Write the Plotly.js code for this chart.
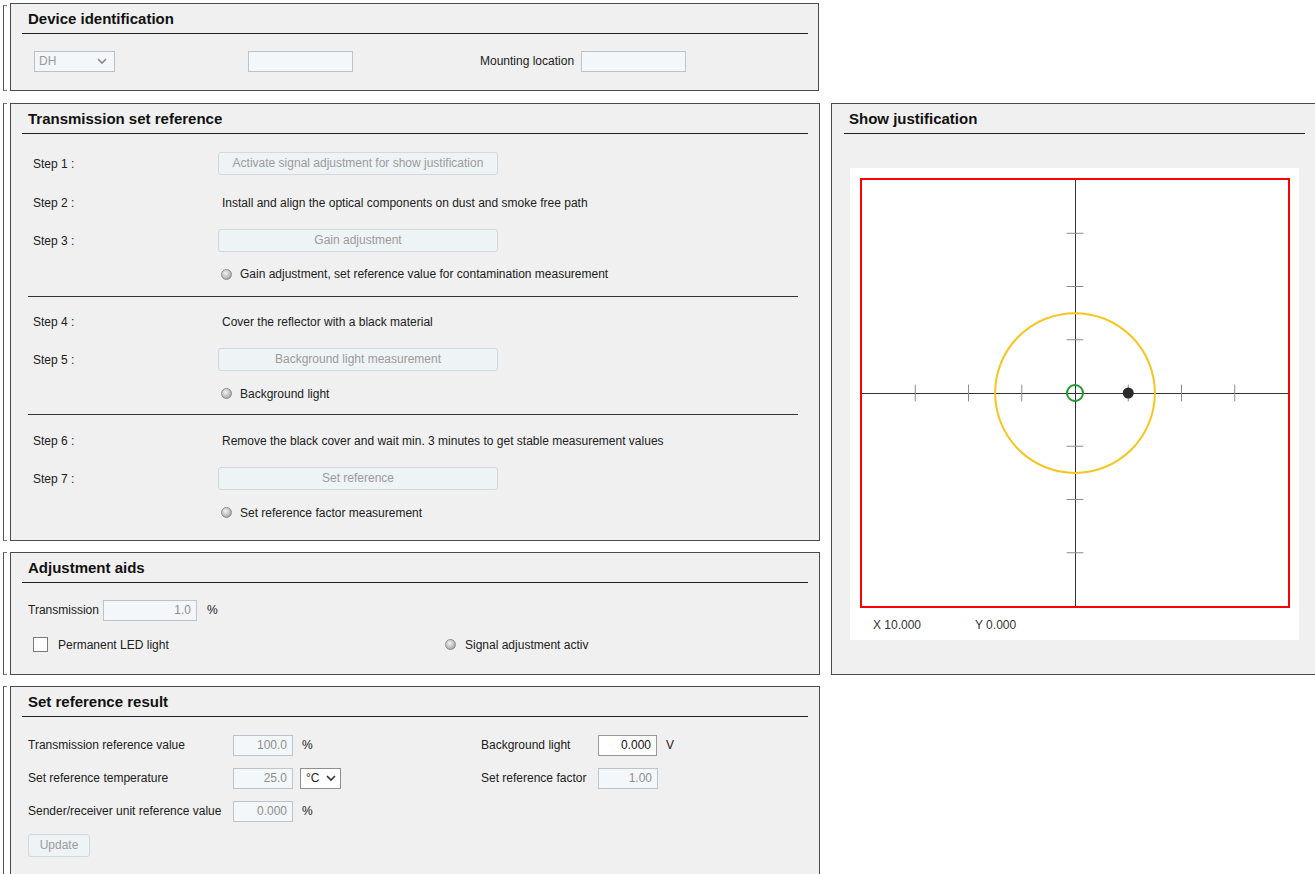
<!DOCTYPE html>
<html>
<head>
<meta charset="utf-8">
<script src="https://cdn.plot.ly/plotly-3.0.1.min.js"></script>
<style>
  html, body { margin:0; padding:0; background:#ffffff; width:1315px; height:874px; overflow:hidden;
    font-family:"Liberation Sans", Arial, sans-serif; }
  .panel { position:absolute; background:#f0f0f0; border:1px solid #4a4a4a; box-sizing:border-box; }
  .brk { position:absolute; left:3px; width:4px; border-left:1px solid #555; border-top:1px solid #777; border-bottom:1px solid #777; box-sizing:border-box; }
  .hdr { position:absolute; font-weight:bold; font-size:15px; line-height:18px; color:#111; white-space:nowrap; }
  .rule { position:absolute; height:1px; background:#1e1e1e; }
  .sep { position:absolute; height:1px; background:#333; }
  .t { position:absolute; font-size:12px; line-height:14px; color:#202020; white-space:nowrap; }
  .inp { position:absolute; box-sizing:border-box; border:1px solid #bcc3c9; background:#f3f7fa; color:#8e8e8e;
    font-size:12px; text-align:right; padding-right:5px; white-space:nowrap; }
  .btn { position:absolute; box-sizing:border-box; border:1px solid #d2d8dd; border-radius:3px; background:#eef3f6;
    color:#9b9b9b; text-align:center; font-size:12px; white-space:nowrap; }
  .led { position:absolute; width:11px; height:11px; border-radius:50%; box-sizing:border-box; border:1px solid #8d8d8d;
    background: radial-gradient(circle at 40% 35%, #f4f4f4 0%, #bdbdbd 55%, #8a8a8a 100%); }
  .sel { position:absolute; box-sizing:border-box; border:1px solid #b9c0c6; font-size:12px; white-space:nowrap; }
  .chk { position:absolute; width:15px; height:15px; box-sizing:border-box; border:1px solid #7a7a7a; background:#fff; }
  #plot { position:absolute; left:850px; top:168px; width:449px; height:472px; background:#fff; }
</style>
</head>
<body>

<!-- Device identification -->
<div class="brk" style="top:5px;height:86px;"></div>
<div class="panel" style="left:10px;top:3px;width:809px;height:88px;"></div>
<div class="hdr" style="left:28px;top:10px;">Device identification</div>
<div class="rule" style="left:22px;top:33px;width:786px;"></div>
<div class="sel" style="left:34px;top:51px;width:81px;height:21px;background:#f3f7fa;color:#9a9a9a;line-height:19px;padding-left:4px;">DH
  <svg style="position:absolute;left:62px;top:6px;" width="10" height="7"><polyline points="1,1 5,5 9,1" fill="none" stroke="#8a8a8a" stroke-width="1.6"/></svg></div>
<div class="inp" style="left:248px;top:51px;width:105px;height:21px;"></div>
<div class="t" style="left:480px;top:54px;">Mounting location</div>
<div class="inp" style="left:581px;top:51px;width:105px;height:21px;"></div>

<!-- Transmission set reference -->
<div class="brk" style="top:103px;height:438px;"></div>
<div class="panel" style="left:10px;top:103px;width:810px;height:438px;"></div>
<div class="hdr" style="left:28px;top:110px;">Transmission set reference</div>
<div class="rule" style="left:22px;top:133px;width:786px;"></div>

<div class="t" style="left:33px;top:157px;">Step 1 :</div>
<div class="btn" style="left:218px;top:152px;width:280px;height:23px;line-height:21px;">Activate signal adjustment for show justification</div>
<div class="t" style="left:33px;top:196px;">Step 2 :</div>
<div class="t" style="left:222px;top:196px;">Install and align the optical components on dust and smoke free path</div>
<div class="t" style="left:33px;top:234px;">Step 3 :</div>
<div class="btn" style="left:218px;top:229px;width:280px;height:23px;line-height:21px;">Gain adjustment</div>
<div class="led" style="left:221px;top:269px;"></div>
<div class="t" style="left:240px;top:267px;">Gain adjustment, set reference value for contamination measurement</div>
<div class="sep" style="left:28px;top:296px;width:770px;"></div>

<div class="t" style="left:33px;top:315px;">Step 4 :</div>
<div class="t" style="left:222px;top:315px;">Cover the reflector with a black material</div>
<div class="t" style="left:33px;top:353px;">Step 5 :</div>
<div class="btn" style="left:218px;top:348px;width:280px;height:23px;line-height:21px;">Background light measurement</div>
<div class="led" style="left:221px;top:388px;"></div>
<div class="t" style="left:240px;top:387px;">Background light</div>
<div class="sep" style="left:28px;top:414px;width:770px;"></div>

<div class="t" style="left:33px;top:434px;">Step 6 :</div>
<div class="t" style="left:222px;top:434px;">Remove the black cover and wait min. 3 minutes to get stable measurement values</div>
<div class="t" style="left:33px;top:472px;">Step 7 :</div>
<div class="btn" style="left:218px;top:467px;width:280px;height:23px;line-height:21px;">Set reference</div>
<div class="led" style="left:221px;top:507px;"></div>
<div class="t" style="left:240px;top:506px;">Set reference factor measurement</div>

<!-- Adjustment aids -->
<div class="brk" style="top:552px;height:123px;"></div>
<div class="panel" style="left:10px;top:552px;width:810px;height:123px;"></div>
<div class="hdr" style="left:28px;top:559px;">Adjustment aids</div>
<div class="rule" style="left:22px;top:582px;width:786px;"></div>
<div class="t" style="left:28px;top:603px;">Transmission</div>
<div class="inp" style="left:103px;top:600px;width:94px;height:21px;line-height:19px;">1.0</div>
<div class="t" style="left:207px;top:603px;">%</div>
<div class="chk" style="left:33px;top:637px;"></div>
<div class="t" style="left:58px;top:638px;">Permanent LED light</div>
<div class="led" style="left:445px;top:639px;"></div>
<div class="t" style="left:465px;top:638px;">Signal adjustment activ</div>

<!-- Set reference result -->
<div class="brk" style="top:686px;height:200px;"></div>
<div class="panel" style="left:10px;top:686px;width:810px;height:200px;"></div>
<div class="hdr" style="left:28px;top:693px;">Set reference result</div>
<div class="rule" style="left:22px;top:716px;width:786px;"></div>
<div class="t" style="left:28px;top:738px;">Transmission reference value</div>
<div class="inp" style="left:233px;top:735px;width:60px;height:21px;line-height:19px;">100.0</div>
<div class="t" style="left:302px;top:738px;">%</div>
<div class="t" style="left:28px;top:771px;">Set reference temperature</div>
<div class="inp" style="left:233px;top:768px;width:60px;height:21px;line-height:19px;">25.0</div>
<div class="sel" style="left:300px;top:768px;width:41px;height:21px;background:#fff;color:#222;line-height:19px;padding-left:5px;border-color:#8f8f8f;">°C
  <svg style="position:absolute;left:25px;top:6px;" width="10" height="7"><polyline points="1,1 5,5 9,1" fill="none" stroke="#333" stroke-width="1.6"/></svg></div>
<div class="t" style="left:28px;top:804px;">Sender/receiver unit reference value</div>
<div class="inp" style="left:233px;top:801px;width:60px;height:21px;line-height:19px;">0.000</div>
<div class="t" style="left:302px;top:804px;">%</div>
<div class="btn" style="left:28px;top:834px;width:62px;height:23px;line-height:21px;">Update</div>
<div class="t" style="left:481px;top:738px;">Background light</div>
<div class="inp" style="left:598px;top:735px;width:59px;height:21px;line-height:19px;background:#fff;color:#111;border-color:#999;">0.000</div>
<div class="t" style="left:666px;top:738px;">V</div>
<div class="t" style="left:481px;top:771px;">Set reference factor</div>
<div class="inp" style="left:598px;top:768px;width:60px;height:21px;line-height:19px;">1.00</div>

<!-- Show justification -->
<div class="panel" style="left:831px;top:103px;width:500px;height:572px;"></div>
<div class="hdr" style="left:849px;top:110px;">Show justification</div>
<div class="rule" style="left:844px;top:133px;width:461px;"></div>
<div id="plot"></div>

<script>
// ---- chart data ----
const axisRange = [-40, 40];
const xTickValues = [-30, -20, -10, 10, 20, 30];
const yTickValues = [-30, -20, -10, 10, 20, 30];
const targetCenterX = 0;
const targetCenterY = 0;
const targetRadius = 15;
const referenceX = [0];
const referenceY = [0];
const measuredX = [10];
const measuredY = [0];

const zeros = arr => arr.map(() => 0);
const tickColor = '#8c8c8c';

const traces = [
  { type:'scatter', mode:'markers', x:xTickValues, y:zeros(xTickValues),
    marker:{symbol:'line-ns', size:12, color:tickColor, line:{color:tickColor, width:1}}, hoverinfo:'skip' },
  { type:'scatter', mode:'markers', x:zeros(yTickValues), y:yTickValues,
    marker:{symbol:'line-ew', size:12, color:tickColor, line:{color:tickColor, width:1}}, hoverinfo:'skip' },
  { type:'scatter', mode:'markers', x:referenceX, y:referenceY,
    marker:{symbol:'circle-open', size:16, color:'#1f9a2a', line:{color:'#1f9a2a', width:2}} },
  { type:'scatter', mode:'markers', x:measuredX, y:measuredY,
    marker:{symbol:'circle', size:11, color:'#2b2b2b'} }
];

const fontSpec = {family:'"Liberation Sans", Arial, sans-serif', size:12, color:'#333'};

const layout = {
  width:449, height:472,
  margin:{l:12, r:11, t:12, b:34},
  paper_bgcolor:'#ffffff', plot_bgcolor:'#ffffff',
  showlegend:false,
  xaxis:{range:axisRange, showgrid:false, showticklabels:false, ticks:'', zeroline:true,
    zerolinecolor:'#333', zerolinewidth:1, showline:true, mirror:true, linecolor:'#ff0000', linewidth:2, fixedrange:true},
  yaxis:{range:axisRange, showgrid:false, showticklabels:false, ticks:'', zeroline:true,
    zerolinecolor:'#333', zerolinewidth:1, showline:true, mirror:true, linecolor:'#ff0000', linewidth:2, fixedrange:true},
  shapes:[
    {type:'circle', xref:'x', yref:'y',
     x0:targetCenterX - targetRadius, x1:targetCenterX + targetRadius,
     y0:targetCenterY - targetRadius, y1:targetCenterY + targetRadius,
     line:{color:'#f7c520', width:2}, fillcolor:'rgba(0,0,0,0)'}
  ],
  annotations:[
    {xref:'paper', yref:'paper', x:0.021, y:-0.045, xanchor:'left', yanchor:'middle', showarrow:false,
     text:'X ' + measuredX[0].toFixed(3), font:fontSpec},
    {xref:'paper', yref:'paper', x:0.26, y:-0.045, xanchor:'left', yanchor:'middle', showarrow:false,
     text:'Y ' + measuredY[0].toFixed(3), font:fontSpec}
  ],
  hovermode:false
};

Plotly.newPlot('plot', traces, layout, {displayModeBar:false, staticPlot:true});
</script>
</body>
</html>
